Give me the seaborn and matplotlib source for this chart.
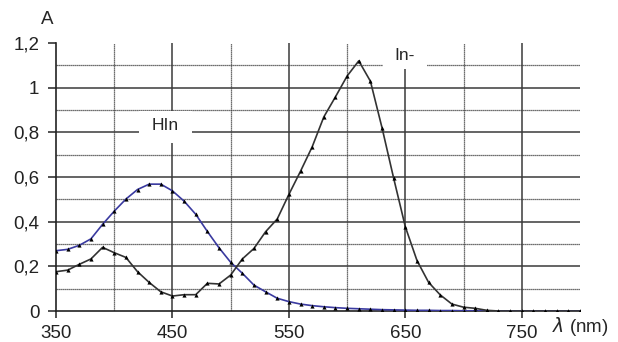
import matplotlib
matplotlib.use('Agg')
import matplotlib.pyplot as plt
import numpy as np
import pandas as pd
import seaborn as sns
from matplotlib.patches import Rectangle
from matplotlib.ticker import FuncFormatter

# Wavelengths (nm) and absorbance
wavelength = [350, 360, 370, 380, 390, 400, 410, 420, 430, 440,
              450, 460, 470, 480, 490, 500, 510, 520, 530, 540,
              550, 560, 570, 580, 590, 600, 610, 620, 630, 640,
              650, 660, 670, 680, 690, 700, 710, 720, 730, 740,
              750, 760, 770, 780, 790, 800]

hin = [0.270, 0.276, 0.294, 0.323, 0.388, 0.447, 0.501, 0.544, 0.568, 0.568,
       0.538, 0.492, 0.433, 0.356, 0.283, 0.218, 0.169, 0.116, 0.086, 0.057,
       0.042, 0.031, 0.024, 0.019, 0.015, 0.012, 0.010, 0.008, 0.006, 0.005,
       0.004, 0.003, 0.003, 0.002, 0.002, 0.001, 0.001, 0.0, 0.0, 0.0,
       0.0, 0.0, 0.0, 0.0, 0.0, 0.0]

in_minus = [0.176, 0.183, 0.209, 0.233, 0.285, 0.261, 0.240, 0.176, 0.128, 0.086,
            0.067, 0.073, 0.073, 0.124, 0.121, 0.161, 0.233, 0.280, 0.355, 0.412,
            0.522, 0.626, 0.735, 0.869, 0.959, 1.052, 1.120, 1.029, 0.820, 0.594,
            0.377, 0.226, 0.128, 0.072, 0.031, 0.017, 0.012, 0.003, 0.0, 0.0,
            0.0, 0.0, 0.0, 0.0, 0.0, 0.0]

x_ticks = [350, 450, 550, 650, 750]
y_ticks = [0, 0.2, 0.4, 0.6, 0.8, 1.0, 1.2]

sns.set_style('white')
plt.rcParams['font.family'] = ['Liberation Sans', 'DejaVu Sans']
plt.rcParams['mathtext.fontset'] = 'dejavusans'

fig = plt.figure(figsize=(6.18, 3.42), dpi=100)
ax = fig.add_axes([56 / 618, 1 - 311 / 342, 524 / 618, 268 / 342])

# grid: solid majors, dotted minors
solid = dict(color='#3a3a3a', lw=1.1, zorder=1)
dotted = dict(color='#3f3f3f', lw=0.9, ls=(0, (1, 0.6)), zorder=1)
for yv in [0.2, 0.4, 0.6, 0.8, 1.0]:
    ax.axhline(yv, **solid)
for yv in [0.1, 0.3, 0.5, 0.7, 0.9, 1.1]:
    ax.axhline(yv, **dotted)
for xv in [450, 550, 650, 750]:
    ax.axvline(xv, **solid)
for xv in [400, 500, 600, 700]:
    ax.axvline(xv, **dotted)

df = pd.DataFrame({'wl': wavelength, 'HIn': hin, 'In-': in_minus})
sns.lineplot(data=df, x='wl', y='HIn', ax=ax, color='#3a3aa0', lw=1.2,
             marker='^', markersize=3.0, markeredgewidth=0,
             markerfacecolor='black', zorder=3)
sns.lineplot(data=df, x='wl', y='In-', ax=ax, color='#333333', lw=1.2,
             marker='^', markersize=3.0, markeredgewidth=0,
             markerfacecolor='black', zorder=3)

# label boxes that cut the grid
ax.add_patch(Rectangle((421, 0.752), 46, 0.143, facecolor='white',
                       edgecolor='none', zorder=2))
ax.add_patch(Rectangle((630.5, 1.083), 38, 0.13, facecolor='white',
                       edgecolor='none', zorder=2, clip_on=False))
ax.text(444, 0.832, 'HIn', ha='center', va='center', fontsize=12.5, zorder=4)
ax.text(649, 1.145, 'In-', ha='center', va='center', fontsize=12.5, zorder=4)

ax.set_xlim(350, 800)
ax.set_ylim(0, 1.2)
ax.set_xticks(x_ticks)
ax.set_yticks(y_ticks)
ax.yaxis.set_major_formatter(FuncFormatter(lambda v, p: f'{v:g}'.replace('.', ',')))
ax.tick_params(axis='x', direction='out', length=5, width=1.1, pad=5,
               labelsize=13.5, colors='#222222', bottom=True)
ax.tick_params(axis='y', direction='out', length=6, width=1.1, pad=6,
               labelsize=13.5, colors='#222222', left=True)
ax.set_xlabel('')
ax.set_ylabel('')
for side in ['top', 'right']:
    ax.spines[side].set_visible(False)
for side in ['left', 'bottom']:
    ax.spines[side].set_color('#222222')
    ax.spines[side].set_linewidth(1.2)

fig.text(47 / 618, 1 - 20 / 342, 'A', ha='center', va='center', fontsize=13.5)
fig.text(552 / 618, 1 - 327 / 342, r'$\lambda$ (nm)', ha='left', va='center',
         fontsize=13.5)

fig.savefig('out.png', dpi=100)
